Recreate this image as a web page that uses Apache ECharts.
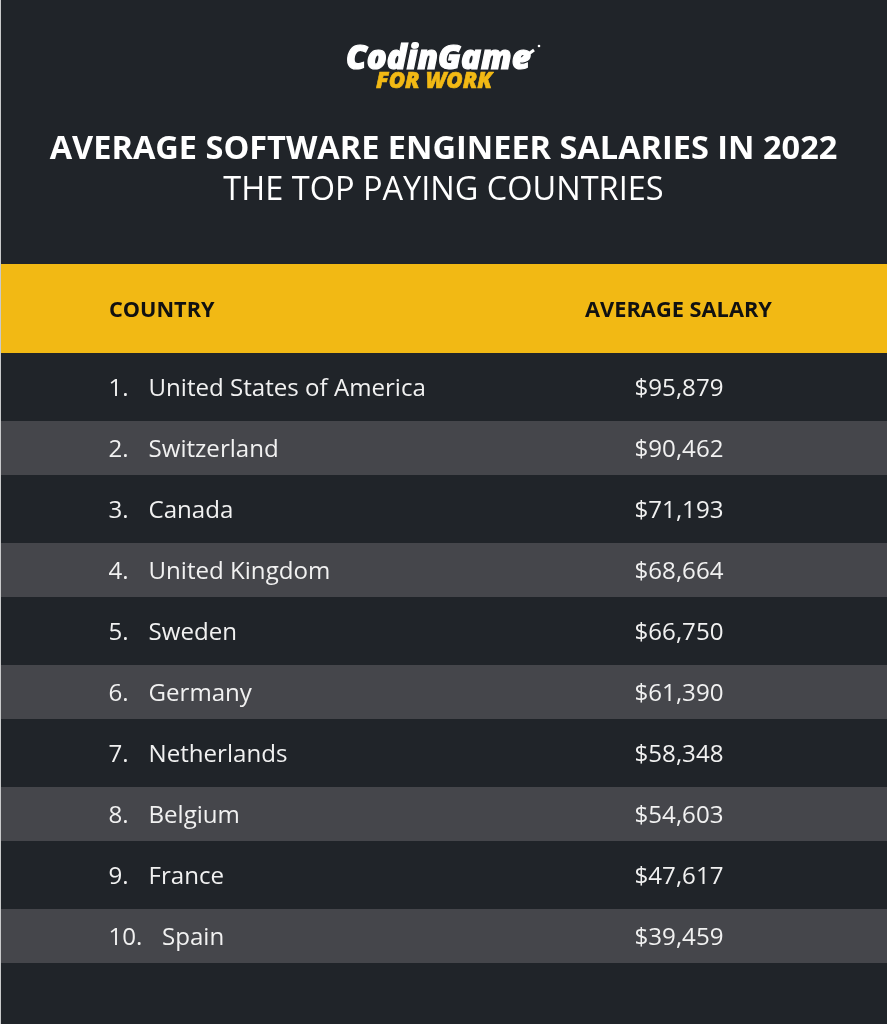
<!DOCTYPE html>
<html>
<head>
<meta charset="utf-8">
<title>Average software engineer salaries in 2022</title>
<style>
  html, body { margin: 0; padding: 0; background: #202429; }
  #main { width: 887px; height: 1024px; }
</style>
</head>
<body>
<div id="main"></div>
<script src="https://cdn.jsdelivr.net/npm/echarts@6/dist/echarts.min.js"></script>
<script>
var countries = ['United States of America', 'Switzerland', 'Canada', 'United Kingdom', 'Sweden',
    'Germany', 'Netherlands', 'Belgium', 'France', 'Spain'];
var salaries = [95879, 90462, 71193, 68664, 66750, 61390, 58348, 54603, 47617, 39459];
var headers = ['COUNTRY', 'AVERAGE SALARY'];

var font = '"Open Sans", sans-serif';
var bg = '#202429';
var yellow = '#f2b914';
var stripe = '#45464b';
var chart = echarts.init(document.getElementById('main'));

function money(v) {
    return '$' + String(v).replace(/\B(?=(\d{3})+$)/g, ',');
}

// one row: optional stripe, rank, country, salary
function renderRow(params, api) {
    var i = api.value(0);
    var y = api.coord([0, i])[1];
    var textY = y + 2;
    var children = [];
    if (i % 2 === 1) {
        children.push({
            type: 'rect',
            shape: { x: 0, y: y - 27, width: 887, height: 54 },
            style: { fill: stripe }
        });
    }
    var rowText = { fill: '#f1f1f1', font: '400 24.1px ' + font, textVerticalAlign: 'middle' };
    children.push({
        type: 'text',
        style: Object.assign({ x: 108.5, y: textY, text: (i + 1) + '.', textAlign: 'left' }, rowText)
    });
    children.push({
        type: 'text',
        style: Object.assign({ x: i === 9 ? 162 : 148.5, y: textY, text: countries[i], textAlign: 'left' }, rowText)
    });
    children.push({
        type: 'text',
        style: Object.assign({ x: 679, y: textY, text: money(api.value(1)), textAlign: 'center' }, rowText)
    });
    return { type: 'group', children: children };
}

var option = {
    backgroundColor: bg,
    animation: false,
    grid: { left: 0, right: 0, top: 356.5, height: 610 },
    xAxis: { type: 'value', min: 0, max: 100000, show: false },
    yAxis: {
        type: 'category',
        inverse: true,
        data: countries,
        show: false
    },
    title: [
        {
            text: 'AVERAGE SOFTWARE ENGINEER SALARIES IN 2022',
            left: 'center',
            top: 128,
            textStyle: { color: '#fff', fontFamily: font, fontWeight: 700, fontSize: 32.5 }
        },
        {
            text: 'THE TOP PAYING COUNTRIES',
            left: 'center',
            top: 169,
            textStyle: { color: '#fff', fontFamily: font, fontWeight: 400, fontSize: 32.5 }
        }
    ],
    graphic: [
        { type: 'rect', z: -1, shape: { x: 0, y: 264, width: 887, height: 89 }, style: { fill: yellow } },
        { type: 'rect', z: 10, shape: { x: 0, y: 0, width: 1, height: 1024 }, style: { fill: '#c9cacb' } },
        { type: 'text', x: 109, y: 311, style: { text: headers[0], fill: '#111', font: '700 21.7px ' + font, textVerticalAlign: 'middle' } },
        { type: 'text', x: 678.5, y: 311, style: { text: headers[1], fill: '#111', font: '700 21.8px ' + font, textAlign: 'center', textVerticalAlign: 'middle' } },
        // logo wordmark
        { type: 'text', x: 346, y: 60, style: { text: 'CodinGame', fill: '#fff', stroke: '#fff', lineWidth: 1.2, font: 'italic 800 33px ' + font, textAlign: 'left', textVerticalAlign: 'middle' } },
        { type: 'text', x: 376, y: 82, style: { text: 'FOR WORK', fill: yellow, stroke: yellow, lineWidth: 0.6, font: 'italic 800 22.3px ' + font, textAlign: 'left', textVerticalAlign: 'middle' } },
        { type: 'line', z: 5, shape: { x1: 523, y1: 58, x2: 534, y2: 50 }, style: { stroke: '#fff', lineWidth: 3 } },
        { type: 'circle', z: 5, shape: { cx: 539, cy: 46, r: 1.3 }, style: { fill: '#fff' } }
    ],
    series: [{
        type: 'custom',
        coordinateSystem: 'cartesian2d',
        renderItem: renderRow,
        encode: { x: 1, y: 0 },
        data: salaries.map(function(v, i) { return [i, v]; })
    }]
};
chart.setOption(option);
</script>
</body>
</html>
